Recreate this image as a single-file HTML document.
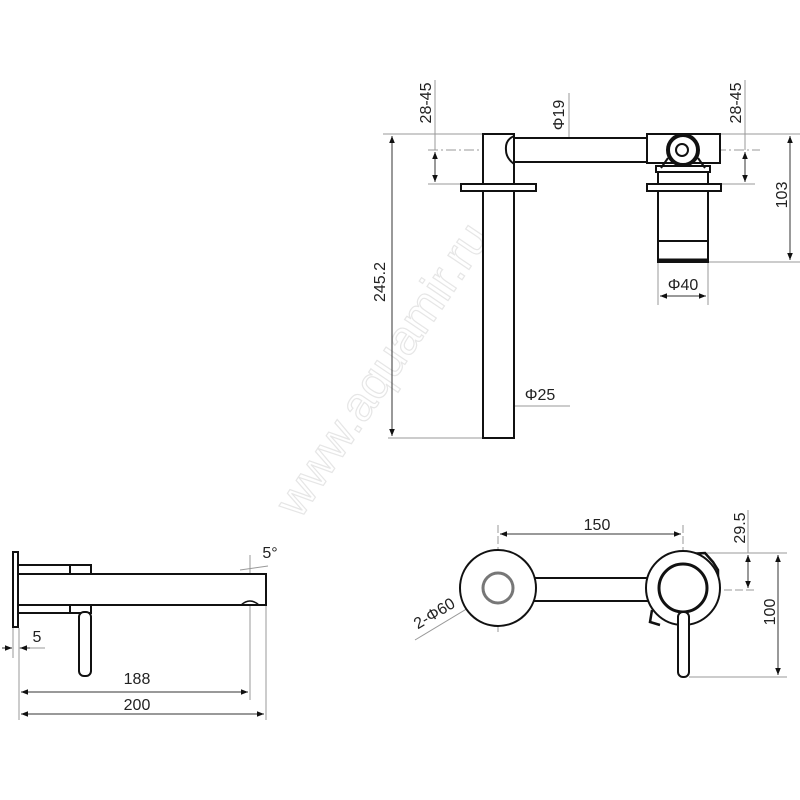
<!DOCTYPE html>
<html><head><meta charset="utf-8"><style>
html,body{margin:0;padding:0;background:#fff;}
svg{display:block;}
text{font-family:"Liberation Sans",sans-serif;fill:#222;}
</style></head><body>
<svg width="800" height="800" viewBox="0 0 800 800" xmlns="http://www.w3.org/2000/svg">
<defs>
<marker id="a" viewBox="0 0 10 10" refX="10" refY="5" markerWidth="7" markerHeight="7" orient="auto-start-reverse"><path d="M0,1 L10,5 L0,9 z" fill="#111"/></marker>
</defs>
<text x="0" y="0" transform="translate(300,520) rotate(-56)" font-size="48" stroke="#e6e6e6" stroke-width="1.2" style="fill:none">www.aquamir.ru</text>

<g stroke="#999" stroke-width="1" fill="none">
 <line x1="383" y1="134" x2="485" y2="134"/>
 <line x1="720" y1="134" x2="800" y2="134"/>
 <line x1="388" y1="438" x2="485" y2="438"/>
 <line x1="428" y1="184" x2="462" y2="184"/>
 <line x1="720" y1="184" x2="755" y2="184"/>
 <line x1="708" y1="262" x2="800" y2="262"/>
 <line x1="435" y1="80" x2="435" y2="150"/>
 <line x1="745" y1="80" x2="745" y2="150"/>
 <line x1="569" y1="93" x2="569" y2="138"/>
 <line x1="658" y1="262" x2="658" y2="305"/>
 <line x1="708" y1="262" x2="708" y2="305"/>
 <line x1="514" y1="406" x2="570" y2="406"/>
 <line x1="428" y1="150" x2="760" y2="150" stroke-dasharray="10,3,2,3"/>
 <line x1="19" y1="628" x2="19" y2="720"/>
 <line x1="13" y1="628" x2="13" y2="658"/>
 <line x1="250" y1="555" x2="250" y2="700"/>
 <line x1="266" y1="606" x2="266" y2="720"/>
 <line x1="19" y1="648" x2="45" y2="648"/>
 <line x1="240" y1="570" x2="268" y2="566"/>
 <line x1="498" y1="525" x2="498" y2="632" stroke-dasharray="8,3"/>
 <line x1="683" y1="525" x2="683" y2="605" stroke-dasharray="8,3"/>
 <line x1="669" y1="590" x2="757" y2="590" stroke-dasharray="8,3"/>
 <line x1="683" y1="553" x2="787" y2="553"/>
 <line x1="689" y1="677" x2="787" y2="677"/>
 <line x1="748" y1="510" x2="748" y2="553"/>
 <line x1="415" y1="640" x2="528" y2="572"/>
</g>

<g stroke="#333" stroke-width="1" fill="none">
 <line x1="392" y1="136" x2="392" y2="436" marker-start="url(#a)" marker-end="url(#a)"/>
 <line x1="435" y1="152" x2="435" y2="182" marker-start="url(#a)" marker-end="url(#a)"/>
 <line x1="745" y1="152" x2="745" y2="182" marker-start="url(#a)" marker-end="url(#a)"/>
 <line x1="569" y1="140" x2="569" y2="160" marker-start="url(#a)" marker-end="url(#a)"/>
 <line x1="790" y1="136" x2="790" y2="260" marker-start="url(#a)" marker-end="url(#a)"/>
 <line x1="660" y1="296" x2="706" y2="296" marker-start="url(#a)" marker-end="url(#a)"/>
 <line x1="485" y1="406" x2="512" y2="406" marker-start="url(#a)" marker-end="url(#a)"/>
 <line x1="21" y1="692" x2="248" y2="692" marker-start="url(#a)" marker-end="url(#a)"/>
 <line x1="21" y1="714" x2="264" y2="714" marker-start="url(#a)" marker-end="url(#a)"/>
 <line x1="2" y1="648" x2="12" y2="648" marker-end="url(#a)"/>
 <line x1="30" y1="648" x2="20" y2="648" marker-end="url(#a)"/>
 <line x1="500" y1="534" x2="681" y2="534" marker-start="url(#a)" marker-end="url(#a)"/>
 <line x1="748" y1="555" x2="748" y2="588" marker-start="url(#a)" marker-end="url(#a)"/>
 <line x1="778" y1="555" x2="778" y2="675" marker-start="url(#a)" marker-end="url(#a)"/>
 <line x1="467" y1="609" x2="528" y2="572" marker-start="url(#a)" marker-end="url(#a)"/>
</g>

<g stroke="#111" stroke-width="2" fill="#fff">
 <rect x="483" y="134" width="31" height="304"/>
 <rect x="461" y="184" width="75" height="7"/>
 <rect x="514" y="138" width="133" height="24"/>
 <path d="M514,136 Q505,140 506,150 Q506,158 514,164" fill="none"/>
 <rect x="647" y="134" width="73" height="29"/>
 <rect x="658" y="170" width="50" height="92"/>
 <line x1="658" y1="241" x2="708" y2="241"/>
 <line x1="658" y1="260" x2="708" y2="260" stroke-width="3"/>
 <rect x="656" y="166" width="54" height="6"/>
 <rect x="647" y="184" width="74" height="7"/>
 <circle cx="683" cy="150" r="15" stroke-width="4"/>
 <circle cx="682" cy="150" r="6"/>
 <path d="M668,158 L661,168 M698,158 L705,168" fill="none"/>
</g>

<g stroke="#111" stroke-width="2" fill="#fff">
 <rect x="13" y="552" width="5" height="75"/>
 <rect x="18" y="565" width="73" height="9"/>
 <rect x="18" y="605" width="73" height="8"/>
 <line x1="70" y1="565" x2="70" y2="574"/>
 <line x1="70" y1="605" x2="70" y2="613"/>
 <rect x="18" y="574" width="248" height="31"/>
 <rect x="79" y="612" width="12" height="64" rx="5"/>
 <path d="M241,605 Q250,597 259,605" fill="none" stroke-width="1.5"/>
</g>

<g stroke="#111" stroke-width="2" fill="#fff">
 <rect x="530" y="578" width="120" height="23"/>
 <circle cx="498" cy="588" r="38"/>
 <circle cx="498" cy="588" r="15" stroke="#777" stroke-width="3"/>
 <path d="M670,555 L705,553 L713,562 L718,570 L718,588 M652,610 L650,622 L660,625" fill="none" stroke-width="2.5"/>
 <circle cx="683" cy="588" r="37"/>
 <circle cx="683" cy="588" r="24" stroke-width="3"/>
 <rect x="678" y="612" width="11" height="65" rx="5"/>
</g>

<g font-size="16">
 <text x="0" y="0" transform="translate(385,282) rotate(-90)" text-anchor="middle">245.2</text>
 <text x="0" y="0" transform="translate(431,103) rotate(-90)" text-anchor="middle">28-45</text>
 <text x="0" y="0" transform="translate(741,103) rotate(-90)" text-anchor="middle">28-45</text>
 <text x="0" y="0" transform="translate(564,115) rotate(-90)" text-anchor="middle">Φ19</text>
 <text x="0" y="0" transform="translate(787,195) rotate(-90)" text-anchor="middle">103</text>
 <text x="683" y="290" text-anchor="middle">Φ40</text>
 <text x="540" y="400" text-anchor="middle">Φ25</text>
 <text x="270" y="558" text-anchor="middle">5°</text>
 <text x="37" y="642" text-anchor="middle">5</text>
 <text x="137" y="684" text-anchor="middle">188</text>
 <text x="137" y="710" text-anchor="middle">200</text>
 <text x="597" y="530" text-anchor="middle">150</text>
 <text x="0" y="0" transform="translate(745,528) rotate(-90)" text-anchor="middle">29.5</text>
 <text x="0" y="0" transform="translate(775,612) rotate(-90)" text-anchor="middle">100</text>
 <text x="0" y="0" transform="translate(437,618) rotate(-31)" text-anchor="middle">2-Φ60</text>
</g>
</svg>
</body></html>
